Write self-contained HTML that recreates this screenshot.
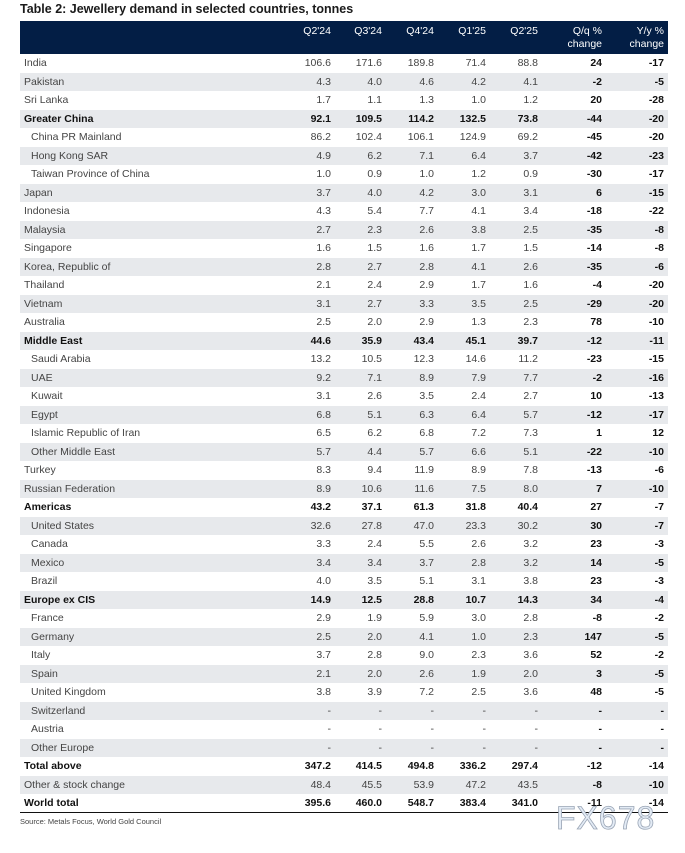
<!DOCTYPE html>
<html><head><meta charset="utf-8"><style>
body{margin:0;width:685px;height:853px;background:#fff;font-family:"Liberation Sans",Arial,sans-serif;position:relative;overflow:hidden}
.title{position:absolute;left:20px;top:2px;font-size:12.5px;font-weight:bold;color:#1a1a1a}
.hdr{position:absolute;left:20px;top:21px;width:648px;height:33px;background:#031e45}
.h{position:absolute;color:#fff;font-size:10.5px;text-align:right;line-height:13px;top:4px}
.row{position:absolute;left:20px;width:648px;height:18.5px;font-size:10.5px;color:#444}
.row.g{background:#e7e9ec}
.row span{position:absolute;top:3px;white-space:nowrap}
.row .l{left:4px}.row .l.i{left:11px}
.row .v{text-align:right}
.row .c{font-weight:bold;color:#111}
.row.b{color:#111;font-weight:bold}
.line{position:absolute;left:20px;width:648px;top:812px;height:1px;background:#111}
.src{position:absolute;left:20px;top:817px;font-size:7.5px;color:#444}
.wm{position:absolute;left:556px;top:800px;font-size:32px;color:#e3ebf5;-webkit-text-stroke:0.8px #9aa5b5;letter-spacing:1px}
</style></head><body>
<div class="title">Table 2: Jewellery demand in selected countries, tonnes</div>
<div class="hdr">
<div class="h" style="right:337px">Q2'24</div>
<div class="h" style="right:286px">Q3'24</div>
<div class="h" style="right:234px">Q4'24</div>
<div class="h" style="right:182px">Q1'25</div>
<div class="h" style="right:130px">Q2'25</div>
<div class="h" style="right:66px">Q/q %<br>change</div>
<div class="h" style="right:4px">Y/y %<br>change</div>
</div>
<div id="rows"></div>
<div class="line"></div>
<div class="src">Source: Metals Focus, World Gold Council</div>
<div class="wm">FX678</div>
<script>
const labels=["India","Pakistan","Sri Lanka","Greater China","China PR Mainland","Hong Kong SAR","Taiwan Province of China","Japan","Indonesia","Malaysia","Singapore","Korea, Republic of","Thailand","Vietnam","Australia","Middle East","Saudi Arabia","UAE","Kuwait","Egypt","Islamic Republic of Iran","Other Middle East","Turkey","Russian Federation","Americas","United States","Canada","Mexico","Brazil","Europe ex CIS","France","Germany","Italy","Spain","United Kingdom","Switzerland","Austria","Other Europe","Total above","Other & stock change","World total"];
const bold=[3,15,24,29,38,40];
const indent=[4,5,6,16,17,18,19,20,21,25,26,27,28,30,31,32,33,34,35,36,37];
const q224=["106.6","4.3","1.7","92.1","86.2","4.9","1.0","3.7","4.3","2.7","1.6","2.8","2.1","3.1","2.5","44.6","13.2","9.2","3.1","6.8","6.5","5.7","8.3","8.9","43.2","32.6","3.3","3.4","4.0","14.9","2.9","2.5","3.7","2.1","3.8","-","-","-","347.2","48.4","395.6"];
const q324=["171.6","4.0","1.1","109.5","102.4","6.2","0.9","4.0","5.4","2.3","1.5","2.7","2.4","2.7","2.0","35.9","10.5","7.1","2.6","5.1","6.2","4.4","9.4","10.6","37.1","27.8","2.4","3.4","3.5","12.5","1.9","2.0","2.8","2.0","3.9","-","-","-","414.5","45.5","460.0"];
const q424=["189.8","4.6","1.3","114.2","106.1","7.1","1.0","4.2","7.7","2.6","1.6","2.8","2.9","3.3","2.9","43.4","12.3","8.9","3.5","6.3","6.8","5.7","11.9","11.6","61.3","47.0","5.5","3.7","5.1","28.8","5.9","4.1","9.0","2.6","7.2","-","-","-","494.8","53.9","548.7"];
const q125=["71.4","4.2","1.0","132.5","124.9","6.4","1.2","3.0","4.1","3.8","1.7","4.1","1.7","3.5","1.3","45.1","14.6","7.9","2.4","6.4","7.2","6.6","8.9","7.5","31.8","23.3","2.6","2.8","3.1","10.7","3.0","1.0","2.3","1.9","2.5","-","-","-","336.2","47.2","383.4"];
const q225=["88.8","4.1","1.2","73.8","69.2","3.7","0.9","3.1","3.4","2.5","1.5","2.6","1.6","2.5","2.3","39.7","11.2","7.7","2.7","5.7","7.3","5.1","7.8","8.0","40.4","30.2","3.2","3.2","3.8","14.3","2.8","2.3","3.6","2.0","3.6","-","-","-","297.4","43.5","341.0"];
const qq=["24","-2","20","-44","-45","-42","-30","6","-18","-35","-14","-35","-4","-29","78","-12","-23","-2","10","-12","1","-22","-13","7","27","30","23","14","23","34","-8","147","52","3","48","-","-","-","-12","-8","-11"];
const yy=["-17","-5","-28","-20","-20","-23","-17","-15","-22","-8","-8","-6","-20","-20","-10","-11","-15","-16","-13","-17","12","-10","-6","-10","-7","-7","-3","-5","-3","-4","-2","-5","-2","-5","-5","-","-","-","-14","-10","-14"];
const rowsEl=document.getElementById('rows');
const rowY=i=>54+i*18.5;
const cols=[[q224,337],[q324,286],[q424,234],[q125,182],[q225,130]];
labels.forEach((lab,i)=>{
  const r=document.createElement('div');
  r.className='row'+(i%2?' g':'')+(bold.includes(i)?' b':'');
  r.style.top=rowY(i)+'px';
  
  
  const l=document.createElement('span');
  l.className='l'+(indent.includes(i)?' i':'');
  l.textContent=lab;
  
  
  r.appendChild(l);
  cols.forEach(([arr,rt])=>{
    const s=document.createElement('span');s.className='v';s.style.right=rt+'px';s.textContent=arr[i];
    
    
    r.appendChild(s);
  });
  [[qq,66],[yy,4]].forEach(([arr,rt])=>{
    const s=document.createElement('span');s.className='v c';s.style.right=rt+'px';s.textContent=arr[i];
    
    
    r.appendChild(s);
  });
  rowsEl.appendChild(r);
});
</script>
</body></html>
